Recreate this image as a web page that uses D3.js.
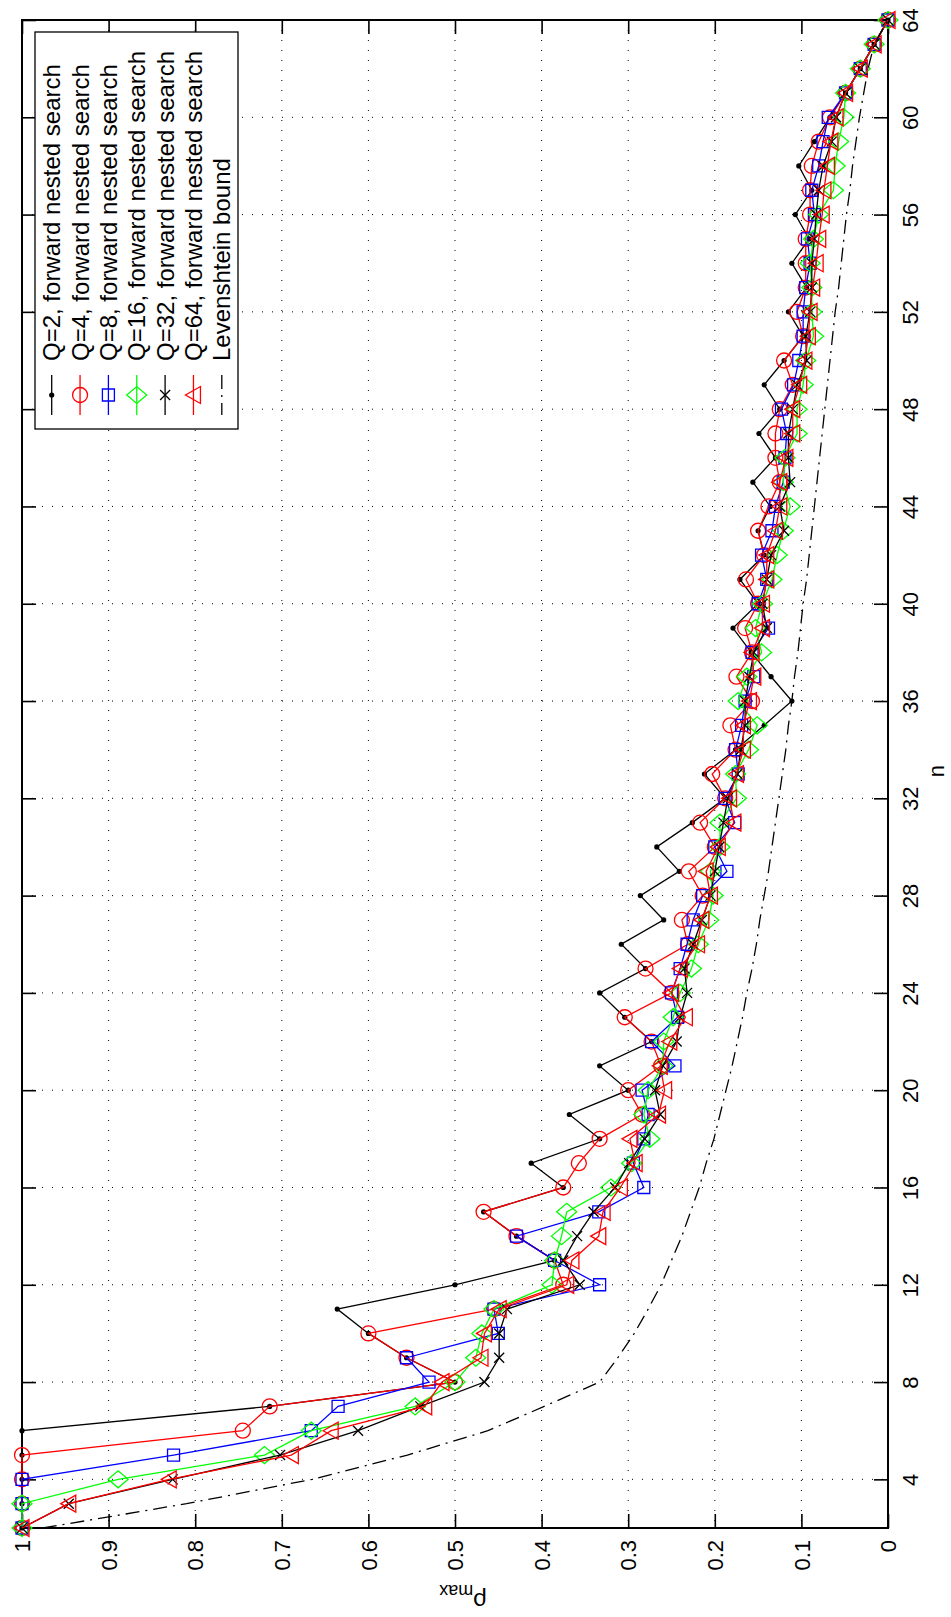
<!DOCTYPE html>
<html>
<head>
<meta charset="utf-8">
<script src="https://cdn.jsdelivr.net/npm/d3@7"></script>
<style>
  body { margin: 0; background: #fff; }
  svg { display: block; font-family: "Liberation Sans", Arial, sans-serif; }
</style>
</head>
<body>
<div id="plot"></div>
<script>
// Data (n on one axis, rho_max on the other)
const nValues = [2,3,4,5,6,7,8,9,10,11,12,13,14,15,16,17,18,19,20,21,22,23,24,25,26,27,28,29,30,31,32,33,
  34,35,36,37,38,39,40,41,42,43,44,45,46,47,48,49,50,51,52,53,54,55,56,57,58,59,60,61,62,63,64];

const q2 = [1,1,1,1,1, .714,.5,.556,.6,.636, .5,.385,.429,.467,.375, .412,.333,.368,.3,.333,
  .273,.304,.333,.28,.308, .259,.286,.241,.267,.226, .188,.212,.176,.143,.111, .135,.158,.179,.15,.171,
  .143,.15,.136,.156,.13, .149,.125,.143,.12,.098, .115,.094,.111,.091,.107, .088,.103,.085,.067,.049,
  .032,.016,0];
const q4 = [1,1,1,1,.745, .714,.5,.556,.6,.455, .375,.385,.429,.467,.375, .357,.333,.284,.3,.262,
  .273,.304,.25,.28,.231, .238,.214,.23,.2,.217, .188,.203,.176,.182,.157, .175,.157,.165,.15,.164,
  .143,.15,.138,.125,.13, .13,.125,.11,.12,.098, .105,.095,.095,.095,.09, .09,.088,.08,.067,.049,
  .032,.016,0];
const q8 = [1,1,1,.825,.666, .635,.53,.556,.45,.455, .333,.385,.429,.334,.282, .294,.282,.277,.284,.246,
  .273,.243,.25,.24,.232, .225,.214,.186,.2,.177, .188,.173,.176,.169,.165, .155,.157,.138,.15,.14,
  .146,.134,.13,.121,.119, .117,.123,.109,.103,.098, .098,.095,.09,.093,.085, .088,.08,.075,.069,.049,
  .032,.016,0];
const q16 = [1,1,.889,.72,.666, .546,.5,.476,.469,.455, .388,.385,.377,.371,.32, .296,.275,.282,.277,.26,
  .259,.248,.24,.227,.219, .207,.202,.205,.194,.194, .175,.176,.161,.151,.173, .163,.146,.153,.145,.134,
  .128,.121,.113,.121,.119, .105,.105,.098,.095,.086, .088,.088,.09,.086,.08, .063,.061,.057,.051,.049,
  .032,.016,0];
const q32 = [1,.946,.826,.702,.612, .54,.466,.449,.449,.44, .356,.375,.359,.34,.315, .299,.281,.263,.269,.26,
  .244,.24,.232,.235,.225, .215,.205,.2,.195,.19, .185,.174,.17,.165,.165, .16,.155,.14,.145,.14,
  .135,.12,.125,.113,.115, .115,.11,.105,.094,.095, .09,.088,.088,.085,.083, .08,.075,.065,.06,.049,
  .032,.016,0];
const q64 = [1,.946,.83,.689,.643, .535,.515,.47,.466,.449, .371,.365,.334,.329,.309, .292,.298,.265,.258,.263,
  .252,.234,.25,.24,.22, .215,.205,.21,.196,.178, .183,.175,.167,.167,.16, .155,.157,.145,.145,.14,
  .14,.13,.125,.125,.118, .11,.11,.102,.096,.092, .09,.087,.083,.08,.076, .074,.07,.066,.06,.049,
  .032,.016,0];
const levenshtein = [.976,.81,.665,.555,.462,.397, .333,.312,.293,.277,.262,.25,.238,.228,.218,.21,.201,.194,
  .187,.18,.174,.168,.163,.157,.152,.148,.143,.138,.134,.13,.126,.122,.118,.115,.111,.108,.104,.101,
  .098,.094,.091,.088,.085,.082,.079,.076,.073,.07,.067,.064,.061,.057,.054,.051,.048,.044,.041,.037,
  .033,.028,.023,.016,0];

const seriesNames = ["Q=2, forward nested search", "Q=4, forward nested search", "Q=8, forward nested search",
  "Q=16, forward nested search", "Q=32, forward nested search", "Q=64, forward nested search", "Levenshtein bound"];

const nTicks = [4,8,12,16,20,24,28,32,36,40,44,48,52,56,60,64];
const rhoTicks = [0,0.1,0.2,0.3,0.4,0.5,0.6,0.7,0.8,0.9,1];
const rhoTickLabels = ["0","0.1","0.2","0.3","0.4","0.5","0.6","0.7","0.8","0.9","1"];

const width = 951;
const height = 1617;
const box = {left: 22, right: 888, top: 20, bottom: 1528};

const svg = d3.select("#plot")
  .append("svg")
  .attr("width", width)
  .attr("height", height);

// rho runs right-to-left, n runs bottom-to-top (figure is turned on its side)
const x = d3.scaleLinear().domain([1, 0]).range([box.left, box.right]);
const y = d3.scaleLinear().domain([2, 64]).range([box.bottom, box.top]);

// Dotted grid
const grid = svg.append("g").attr("stroke", "#000").attr("stroke-width", 1)
  .attr("stroke-dasharray", "1,9");
grid.selectAll("line.gx")
  .data(rhoTicks.filter(d => d > 0 && d < 1))
  .join("line")
  .attr("x1", d => x(d)).attr("x2", d => x(d))
  .attr("y1", box.top).attr("y2", box.bottom);
grid.selectAll("line.gy")
  .data(nTicks.filter(d => d < 64))
  .join("line")
  .attr("x1", box.left).attr("x2", box.right)
  .attr("y1", d => y(d)).attr("y2", d => y(d));

// Axes
const tickLen = 14;
const bottomAxis = svg.append("g")
  .attr("transform", `translate(0,${box.bottom})`)
  .call(d3.axisBottom(x).tickValues(rhoTicks).tickSizeInner(-tickLen).tickSizeOuter(0)
    .tickFormat(d => rhoTickLabels[rhoTicks.indexOf(d)]));
bottomAxis.selectAll("text")
  .attr("transform", "rotate(-90)")
  .attr("x", -12).attr("y", 0).attr("dy", "0.35em")
  .attr("text-anchor", "end");

svg.append("g")
  .attr("transform", `translate(0,${box.top})`)
  .call(d3.axisTop(x).tickValues(rhoTicks).tickSizeInner(-tickLen).tickSizeOuter(0).tickFormat(""));

const rightAxis = svg.append("g")
  .attr("transform", `translate(${box.right},0)`)
  .call(d3.axisRight(y).tickValues(nTicks).tickSizeInner(-tickLen).tickSizeOuter(0));
rightAxis.selectAll("text")
  .attr("transform", "translate(22,0) rotate(-90)")
  .attr("x", 0).attr("y", 0).attr("dy", "0.35em")
  .attr("text-anchor", "middle");

svg.append("g")
  .attr("transform", `translate(${box.left},0)`)
  .call(d3.axisLeft(y).tickValues(nTicks).tickSizeInner(-tickLen).tickSizeOuter(0).tickFormat(""));

svg.selectAll(".domain").remove();
svg.selectAll(".tick line").attr("stroke", "#000").attr("stroke-width", 1.6);
svg.selectAll(".tick text").attr("font-size", 22).attr("fill", "#000")
  .style("font-family", "'Liberation Sans', Arial, sans-serif");

// Frame
svg.append("rect")
  .attr("x", box.left).attr("y", box.top)
  .attr("width", box.right - box.left).attr("height", box.bottom - box.top)
  .attr("fill", "none").attr("stroke", "#000").attr("stroke-width", 2);

// Axis titles
svg.append("text")
  .attr("transform", `translate(936,${y(33) - 3}) rotate(-90)`)
  .attr("text-anchor", "middle").attr("dy", "0.35em")
  .attr("font-size", 22)
  .text("n");

const yLabel = svg.append("text")
  .attr("transform", `translate(${x(0.5) + 8},1593) rotate(180)`)
  .attr("text-anchor", "middle")
  .attr("font-size", 24);
yLabel.append("tspan").text("\u03c1");
yLabel.append("tspan").attr("font-size", 18).attr("dy", 8).text("max");

// Marker shapes
const markerPath = {
  circle: "M-7.5,0A7.5,7.5 0 1,0 7.5,0A7.5,7.5 0 1,0 -7.5,0Z",
  square: "M-6,-6H6V6H-6Z",
  diamond: "M-10,0L0,-8.5L10,0L0,8.5Z",
  cross: "M-5,-5L5,5M-5,5L5,-5",
  triangle: "M-8,0L7,-8.5L7,8.5Z"
};

const series = [
  {name: seriesNames[0], values: q2, color: "#000", marker: "dot"},
  {name: seriesNames[1], values: q4, color: "#f00", marker: "circle"},
  {name: seriesNames[2], values: q8, color: "#00f", marker: "square"},
  {name: seriesNames[3], values: q16, color: "#0f0", marker: "diamond"},
  {name: seriesNames[4], values: q32, color: "#000", marker: "cross"},
  {name: seriesNames[5], values: q64, color: "#f00", marker: "triangle"}
];

const line = d3.line()
  .x(d => x(d[1]))
  .y(d => y(d[0]));

function drawMarker(g, kind, color) {
  if (kind === "dot") {
    g.append("circle").attr("r", 2.6).attr("fill", color);
  } else {
    g.append("path").attr("d", markerPath[kind])
      .attr("fill", "none").attr("stroke", color).attr("stroke-width", 1.3);
  }
}

series.forEach(s => {
  const pts = nValues.map((n, i) => [n, s.values[i]]);
  const g = svg.append("g");
  g.append("path")
    .attr("d", line(pts))
    .attr("fill", "none")
    .attr("stroke", s.color)
    .attr("stroke-width", 1.3);
  pts.forEach(p => {
    const m = g.append("g").attr("transform", `translate(${x(p[1])},${y(p[0])})`);
    drawMarker(m, s.marker, s.color);
  });
});

// Levenshtein bound
svg.append("path")
  .attr("d", line(nValues.map((n, i) => [n, levenshtein[i]])))
  .attr("fill", "none")
  .attr("stroke", "#000")
  .attr("stroke-width", 1.3)
  .attr("stroke-dasharray", "14,6,2,6");

// Legend
const legend = svg.append("g");
legend.append("rect")
  .attr("x", 35).attr("y", 32).attr("width", 203).attr("height", 397)
  .attr("fill", "#fff").attr("stroke", "#000").attr("stroke-width", 1.3);

const legendItems = series.concat([{name: seriesNames[6], color: "#000", marker: "none"}]);
legendItems.forEach((s, i) => {
  const cx = 51.7 + i * 28.35;
  const g = legend.append("g");
  g.append("line")
    .attr("x1", cx).attr("x2", cx).attr("y1", 375).attr("y2", 415)
    .attr("stroke", s.color).attr("stroke-width", 1.3)
    .attr("stroke-dasharray", s.marker === "none" ? "14,6,2,6" : null);
  if (s.marker !== "none") {
    const m = g.append("g").attr("transform", `translate(${cx},395)`);
    drawMarker(m, s.marker, s.color);
  }
  g.append("text")
    .attr("transform", `translate(${cx},361) rotate(-90)`)
    .attr("dy", "0.36em")
    .attr("font-size", 24)
    .text(s.name);
});
</script>
</body>
</html>
